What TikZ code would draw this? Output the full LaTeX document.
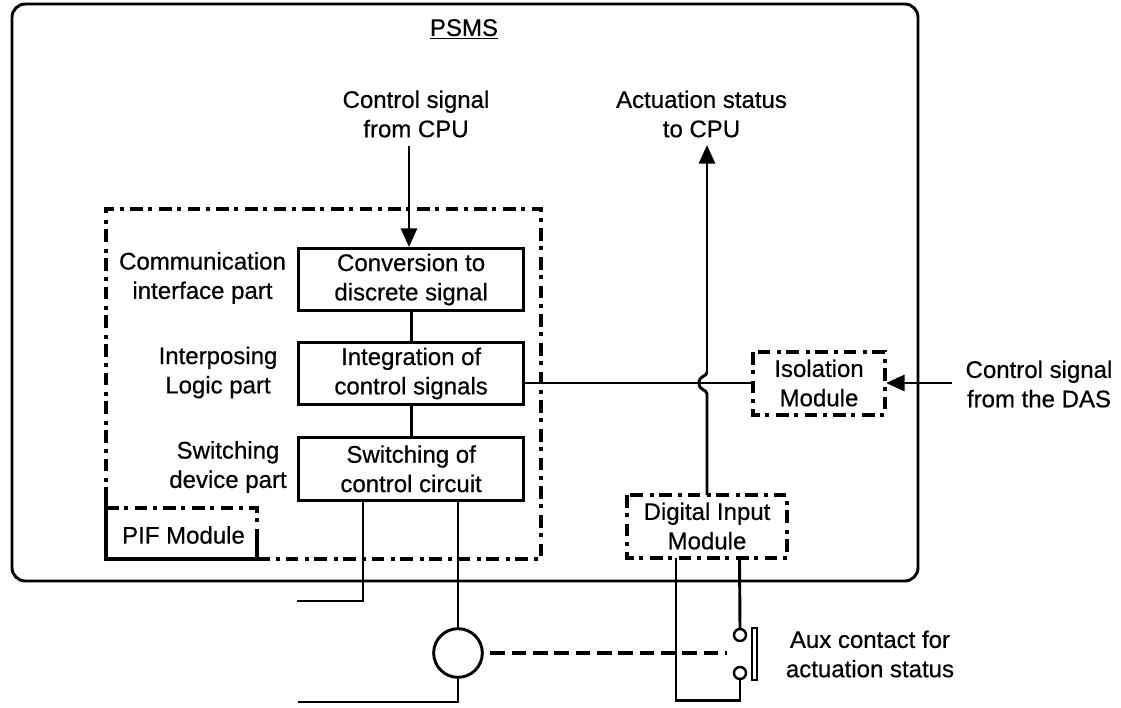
\documentclass[tikz,border=0pt]{standalone}
\usepackage{fontspec}
\setmainfont[FakeBold=0.5]{Liberation Sans}
\usetikzlibrary{arrows.meta}
\tikzset{
 txt/.style={align=center,font=\fontsize{18}{22}\selectfont,inner sep=0pt},
 box/.style={txt,draw,line width=2.2pt,anchor=north west},
 ddot/.style={line width=2.6pt,dash pattern=on 9.5pt off 4pt on 3pt off 5pt},
 wire/.style={line width=2.2pt},
 arr/.style={wire,-{Triangle[length=14pt,width=12pt]}},
 term/.style={draw,circle,line width=1.8pt,minimum size=9pt,inner sep=0pt,fill=white}
}
\begin{document}
\begin{tikzpicture}[x=0.75pt,y=-0.75pt]
\useasboundingbox (0,0) rectangle (1121,707);
% PSMS frame
\coordinate (frameNW) at (12,4);
\coordinate (frameSE) at (918,581);
\draw[line width=2.2pt,rounded corners=10pt] (frameNW) rectangle (frameSE);
\node[txt] (psms) at (464,29) {\underline{PSMS}};
% PIF boundary
\draw[ddot] (106,500) -- (106,209) -- (541,209) -- (541,559) -- (259,559);
\draw[line width=2.3pt] (106,500) -- (106,559) -- (257,559) -- (257,540);
\draw[ddot] (106,508) -- (257,508) -- (257,540);
\node[txt] (pif) at (183.5,535) {PIF Module};
% Function blocks
\node[box,minimum width=169pt,minimum height=46.5pt] (b1) at (297,247) {Conversion to\\discrete signal};
\node[box,minimum width=169pt,minimum height=46.5pt] (b2) at (297,341) {Integration of\\control signals};
\node[box,minimum width=169pt,minimum height=47pt] (b3) at (297,436) {Switching of\\control circuit};
\node[txt] (l1) at (202.5,278) {Communication\\interface part};
\node[txt] (l2) at (218,372.5) {Interposing\\Logic part};
\node[txt] (l3) at (228,467) {Switching\\device part};
% Top labels
\node[txt] (ctl) at (416,114) {Control signal\\from CPU};
\node[txt] (act) at (701.5,114) {Actuation status\\to CPU};
% Modules
\draw[ddot] (753,352) rectangle (885,415);
\node[txt] (iso) at (819,383) {Isolation\\Module};
\coordinate (isoW) at (753,383);
\coordinate (isoE) at (886,383);
\draw[ddot] (627,495) rectangle (787,558);
\node[txt] (dim) at (707,526) {Digital Input\\Module};
\node[txt] (das) at (1039,384) {Control signal\\from the DAS};
\node[txt] (aux) at (870,654) {Aux contact for\\actuation status};
% Connectors
\coordinate (ctlEnd) at (409,146);
\draw[arr] (ctlEnd) -- (ctlEnd |- b1.north);
\draw[wire] (b1.south) -- (b2.north);
\draw[wire] (b2.south) -- (b3.north);
\draw[wire] (b2.east |- isoW) -- (isoW);
\coordinate (dimTop) at (707,495);
\coordinate (actTip) at (707,145);
\draw[wire] (dimTop) -- (707,394) .. controls (707,389) and (699,391) .. (699,383)
   .. controls (699,375) and (707,377) .. (707,372);
\draw[arr] (707,373) -- (actTip);
\coordinate (dasEnd) at (952,383);
\draw[arr] (dasEnd) -- (isoE);
% Lower wires
\coordinate (upEnd) at (297,601);
\coordinate (loEnd) at (298,702);
\draw[wire] (b3.south -| 363,499) -- (363,601) -- (upEnd);
\node[draw,circle,line width=2.2pt,minimum size=36.5pt,inner sep=0pt] (mot) at (458,653) {};
\draw[wire] (458,499) -- (mot.north);
\draw[wire] (mot.south) -- (458,702) -- (loEnd);
\node[term] (t1) at (740,635) {};
\node[term] (t2) at (740,673) {};
\draw[wire] (739.5,558) -- (t1.north);
\draw[wire] (676,558) -- (676,700.5) -- (740,700.5) -- (t2.south);
\draw[line width=1.8pt] (752,628) rectangle (757,680);
\coordinate (dashEnd) at (727,653);
\draw[line width=2.6pt,dash pattern=on 11pt off 5pt,shorten <=5pt] (mot.east) -- (dashEnd);
\end{tikzpicture}
\end{document}
